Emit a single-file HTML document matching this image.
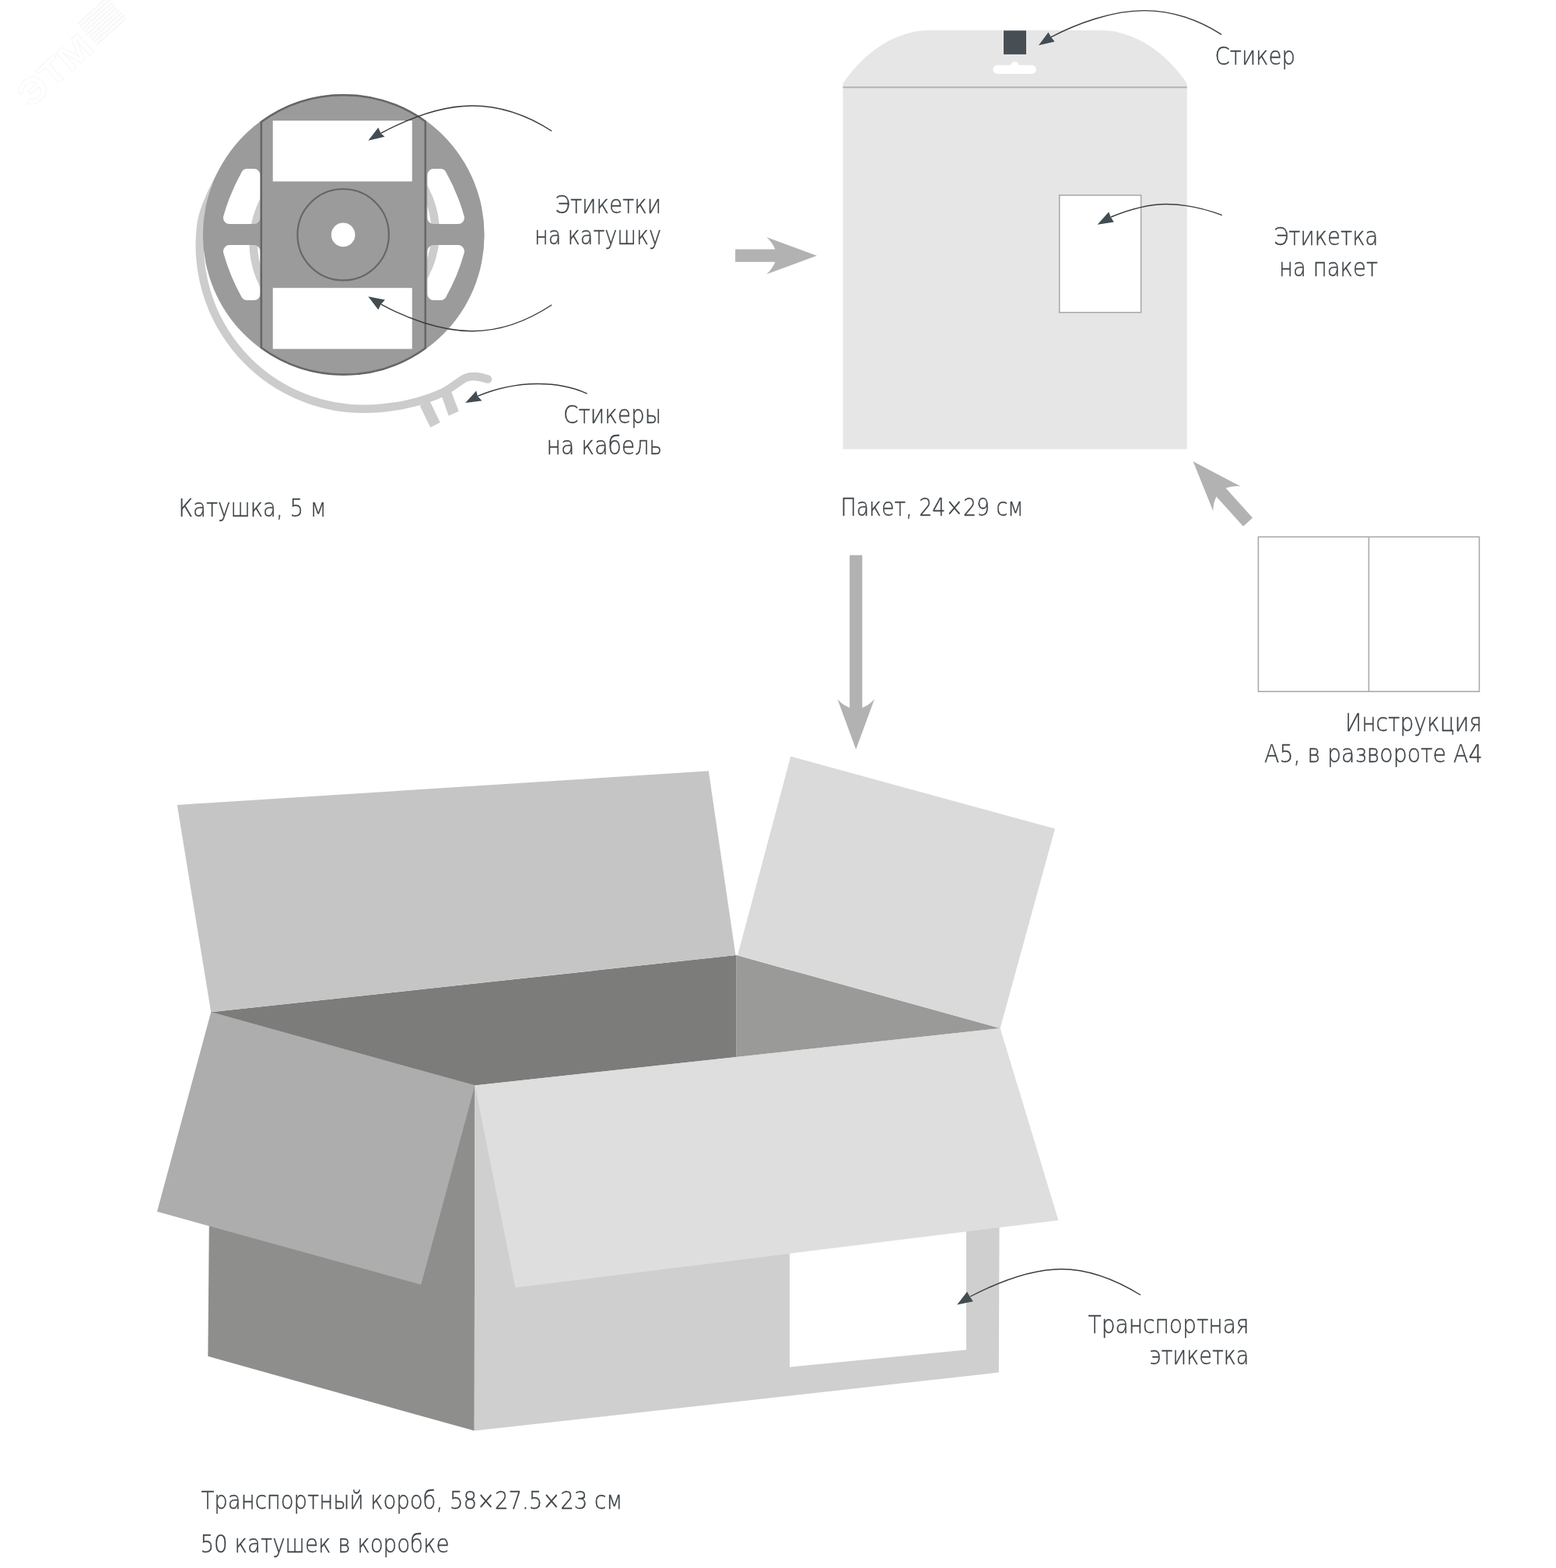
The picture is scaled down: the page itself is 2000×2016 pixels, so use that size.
<!DOCTYPE html>
<html lang="ru">
<head>
<meta charset="utf-8">
<title>Упаковка</title>
<style>
html,body{margin:0;padding:0;background:#fff;}
body{width:2000px;height:2016px;overflow:hidden;}
svg{display:block;}
</style>
</head>
<body>
<svg width="2000" height="2016" viewBox="0 0 2000 2016">
<rect width="2000" height="2016" fill="#ffffff"/>
<g opacity="0.999" fill="none" stroke="#f7f7f7" stroke-width="1">
<text transform="translate(39.1,139.9) rotate(-42)" font-family="'Liberation Sans', 'DejaVu Sans', sans-serif" font-weight="bold" font-size="46" textLength="113" lengthAdjust="spacingAndGlyphs">ЭТМ</text>
<g transform="translate(131,27) rotate(-42)">
<line x1="-26" y1="-18.0" x2="26" y2="-18.0" stroke-width="2.2"/>
<line x1="-26" y1="-13.5" x2="26" y2="-13.5" stroke-width="2.2"/>
<line x1="-26" y1="-9.0" x2="26" y2="-9.0" stroke-width="2.2"/>
<line x1="-26" y1="-4.5" x2="26" y2="-4.5" stroke-width="2.2"/>
<line x1="-26" y1="0.0" x2="26" y2="0.0" stroke-width="2.2"/>
<line x1="-26" y1="4.5" x2="26" y2="4.5" stroke-width="2.2"/>
<line x1="-26" y1="9.0" x2="26" y2="9.0" stroke-width="2.2"/>
<line x1="-26" y1="13.5" x2="26" y2="13.5" stroke-width="2.2"/>
<line x1="-26" y1="18.0" x2="26" y2="18.0" stroke-width="2.2"/>
</g>
</g>
<defs>
<mask id="reelMask" maskUnits="userSpaceOnUse" x="200" y="80" width="500" height="460">
<rect x="200" y="80" width="500" height="460" fill="#fff"/>
<path d="M326.50,280.10 L294.90,280.10 A250,250 0 0 1 317.60,225.10 L326.50,225.10 Z" fill="#000" stroke="#000" stroke-width="16" stroke-linejoin="round"/>
<path d="M557.30,280.10 L588.90,280.10 A250,250 0 0 0 566.20,225.10 L557.30,225.10 Z" fill="#000" stroke="#000" stroke-width="16" stroke-linejoin="round"/>
<path d="M326.50,323.10 L294.90,323.10 A250,250 0 0 0 317.60,378.10 L326.50,378.10 Z" fill="#000" stroke="#000" stroke-width="16" stroke-linejoin="round"/>
<path d="M557.30,323.10 L588.90,323.10 A250,250 0 0 1 566.20,378.10 L557.30,378.10 Z" fill="#000" stroke="#000" stroke-width="16" stroke-linejoin="round"/>
<circle cx="441.1" cy="301.9" r="15.3" fill="#000"/>
</mask>
</defs>
<g fill="none" stroke="#cccccc" stroke-width="10.5" stroke-linecap="round">
<path d="M442.7,195.5 A117,117 0 0 0 442.7,429.5"/>
<path d="M442.7,181.5 A117,117 0 0 1 442.7,415.5"/>
<path d="M300,200 C289,213 261.7,261.5 258.3,289.3 A210.8,210.8 0 0 0 467.5,525.8 C502.5,525.8 541,517.8 570,504.2 C578,500 588,492.5 594,488.3 C599,485 604,483.8 609.5,484 C615,484.2 621,485.5 627,487.5"/>
</g>
<polygon points="539.6,521.4 552.2,515.1 565.7,543.3 553.2,549.5" fill="#cccccc"/>
<polygon points="566.8,506.8 579.3,501.6 589.7,528.7 576.7,534.4" fill="#cccccc"/>
<circle cx="441.7" cy="301.9" r="180.9" fill="#9b9b9b" mask="url(#reelMask)"/>
<path d="M335.80,156.72 A179.7,179.7 0 0 1 546.70,156.07 L546.70,447.73 A179.7,179.7 0 0 1 335.80,447.08 Z" fill="none" stroke="#666666" stroke-width="2.5"/>
<rect x="350.7" y="155.1" width="179" height="78.2" fill="#fff"/>
<rect x="350.7" y="370.2" width="179" height="78.4" fill="#fff"/>
<circle cx="441.1" cy="301.7" r="58.7" fill="none" stroke="#666666" stroke-width="2.1"/>
<path d="M1083.5,577.5 L1083.5,107.5 C1110,68 1150,39.1 1195,39.1 L1414,39.1 C1459,39.1 1499,68 1525.7,107.5 L1525.7,577.5 Z" fill="#e6e6e6"/>
<line x1="1083.5" y1="112.2" x2="1525.7" y2="112.2" stroke="#b3b3b3" stroke-width="2"/>
<rect x="1290" y="39.3" width="29" height="30.6" fill="#474f55"/>
<rect x="1276.3" y="83.8" width="55.6" height="11.1" rx="5.5" fill="#fff"/>
<circle cx="1304.3" cy="84.5" r="5.3" fill="#fff"/>
<rect x="1361.7" y="251" width="104.9" height="150.7" fill="#fff" stroke="#a6a6a6" stroke-width="1.5"/>
<rect x="1617.4" y="690.3" width="284" height="198.8" fill="#fff" stroke="#aaaaaa" stroke-width="1.6"/>
<line x1="1759.4" y1="690.3" x2="1759.4" y2="889.1" stroke="#aaaaaa" stroke-width="1.6"/>
<path d="M-104.8,-8.1 L-53.5,-8.1 Q-57,-17 -64.5,-23.7 L0,0 L-64.5,23.7 Q-57,17 -53.5,8.1 L-104.8,8.1 Z" fill="#b2b2b2" transform="translate(1049.9,328.7) rotate(0.00)"/>
<path d="M-249.7,-8.1 L-53.5,-8.1 Q-57,-17 -64.5,-23.7 L0,0 L-64.5,23.7 Q-57,17 -53.5,8.1 L-249.7,8.1 Z" fill="#b2b2b2" transform="translate(1100.2,963.4) rotate(90.00)"/>
<path d="M-105.0,-8.1 L-53.5,-8.1 Q-57,-17 -64.5,-23.7 L0,0 L-64.5,23.7 Q-57,17 -53.5,8.1 L-105.0,8.1 Z" fill="#b2b2b2" transform="translate(1533.6,593.3) rotate(227.90)"/>
<polygon points="271.2,1301.3 610.4,1395.6 609.7,1839.6 267.3,1743.8" fill="#8e8e8c"/>
<polygon points="610.4,1395.6 1285.6,1322.0 1283.8,1764.6 609.7,1839.6" fill="#cfcfcf"/>
<polygon points="1015.0,1585.0 1242.0,1560.0 1242.0,1735.4 1015.0,1757.7" fill="#ffffff"/>
<polygon points="271.2,1301.3 946.6,1228.1 946.6,1358.9 610.4,1395.6" fill="#7c7c7a"/>
<polygon points="946.6,1228.1 1285.6,1322.0 946.6,1358.9" fill="#9a9a98"/>
<polygon points="271.2,1301.3 945.5,1228.1 910.8,991.3 227.7,1034.9" fill="#c5c5c5"/>
<polygon points="948.1,1228.3 1016.3,972.5 1356.0,1065.6 1285.6,1322.0" fill="#dadada"/>
<polygon points="271.2,1301.3 610.4,1395.6 541.2,1651.7 201.9,1557.8" fill="#adadad"/>
<polygon points="610.4,1395.6 1285.6,1322.0 1360.4,1568.9 662.3,1655.5" fill="#dedede"/>
<path d="M709.2,168.5 C676,147 640,136 607,136 C565,136 520,155 489.5,171.4" fill="none" stroke="#373c40" stroke-width="1.4" stroke-linecap="butt"/>
<polygon points="473.3,180.7 486.2,163.9 489.6,171.4 494.5,175.7" fill="#424c53"/>
<path d="M709.2,392 C676,414 640,425.7 607,425.7 C565,425.7 520,408 489.6,391.2" fill="none" stroke="#373c40" stroke-width="1.4" stroke-linecap="butt"/>
<polygon points="473.3,381.2 494.9,385.5 489.6,391.2 486.2,398.3" fill="#424c53"/>
<path d="M754.6,506.1 C735,497 712,493.3 690,493.5 C662,493.7 635,500.5 613.7,509.4" fill="none" stroke="#373c40" stroke-width="1.4" stroke-linecap="butt"/>
<polygon points="598.1,518 612.2,502.6 613.9,509.4 619.5,515.3" fill="#424c53"/>
<path d="M1570,44.3 C1540,25 1505,13.6 1470,13.6 C1430,13.6 1385,30 1351,47.6" fill="none" stroke="#373c40" stroke-width="1.4" stroke-linecap="butt"/>
<polygon points="1335,58.3 1347.5,41.4 1351,47.8 1355.6,53.6" fill="#424c53"/>
<path d="M1570.8,276.6 C1545,267 1520,262.5 1499,262.5 C1475,262.5 1450,270 1428,279" fill="none" stroke="#373c40" stroke-width="1.4" stroke-linecap="butt"/>
<polygon points="1410.6,288.7 1425.1,272.4 1427.8,279.2 1431.7,285.5" fill="#424c53"/>
<path d="M1466,1665 C1432,1644 1398,1631.7 1364,1631.7 C1325,1631.7 1280,1650 1247,1667" fill="none" stroke="#373c40" stroke-width="1.4" stroke-linecap="butt"/>
<polygon points="1230.2,1677.4 1243.1,1660.7 1246.5,1667 1250.8,1673.2" fill="#424c53"/>
<g font-family="'DejaVu Sans Light', 'Liberation Sans', 'DejaVu Sans', sans-serif" font-size="32" fill="#3d4347" stroke="#3d4347" stroke-width="0.4" opacity="0.999">
<text x="713.49" y="273.60" textLength="136.52" lengthAdjust="spacingAndGlyphs">Этикетки</text>
<text x="687.00" y="314.00" textLength="163.00" lengthAdjust="spacingAndGlyphs">на катушку</text>
<text x="723.99" y="543.60" textLength="126.01" lengthAdjust="spacingAndGlyphs">Стикеры</text>
<text x="702.50" y="584.00" textLength="148.50" lengthAdjust="spacingAndGlyphs">на кабель</text>
<text x="229.49" y="663.60" textLength="190.03" lengthAdjust="spacingAndGlyphs">Катушка, 5 м</text>
<text x="1561.51" y="83.40" textLength="103.48" lengthAdjust="spacingAndGlyphs">Стикер</text>
<text x="1637.00" y="314.70" textLength="134.50" lengthAdjust="spacingAndGlyphs">Этикетка</text>
<text x="1644.02" y="355.10" textLength="126.98" lengthAdjust="spacingAndGlyphs">на пакет</text>
<text x="1080.49" y="663.40" textLength="235.02" lengthAdjust="spacingAndGlyphs">Пакет, 24×29 см</text>
<text x="1728.99" y="939.60" textLength="176.02" lengthAdjust="spacingAndGlyphs">Инструкция</text>
<text x="1625.00" y="980.00" textLength="280.49" lengthAdjust="spacingAndGlyphs">А5, в развороте А4</text>
<text x="1398.50" y="1713.70" textLength="206.99" lengthAdjust="spacingAndGlyphs">Транспортная</text>
<text x="1477.51" y="1754.10" textLength="127.97" lengthAdjust="spacingAndGlyphs">этикетка</text>
<text x="258.50" y="1939.50" textLength="541.50" lengthAdjust="spacingAndGlyphs">Транспортный короб, 58×27.5×23 см</text>
<text x="257.50" y="1996.30" textLength="319.99" lengthAdjust="spacingAndGlyphs">50 катушек в коробке</text>
</g>
</svg>
</body>
</html>
